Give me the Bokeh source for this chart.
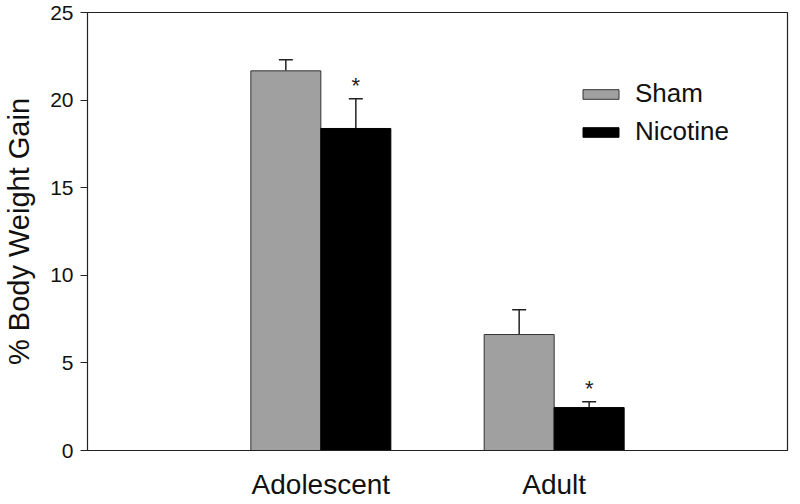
from bokeh.plotting import figure
from bokeh.models import (ColumnDataSource, FixedTicker, Range1d, Legend, LegendItem,
                          Whisker, TeeHead)
from bokeh.core.properties import value
from bokeh.embed import file_html
from bokeh.resources import INLINE

# ---- data ----
groups = ["Adolescent", "Adult"]
group_pos = [1, 2]
sham_mean = [21.67, 6.62]
sham_err = [0.63, 1.41]
nic_mean = [18.38, 2.45]
nic_err = [1.69, 0.33]
nic_sig = ["*", "*"]
y_ticks = [0, 5, 10, 15, 20, 25]

bar_w = 0.3
FONT = "Liberation Sans"

sham_x = [g - bar_w / 2 for g in group_pos]
nic_x = [g + bar_w / 2 for g in group_pos]

sham_src = ColumnDataSource(dict(x=sham_x, top=sham_mean,
                                 upper=[m + e for m, e in zip(sham_mean, sham_err)]))
nic_src = ColumnDataSource(dict(x=nic_x, top=nic_mean,
                                upper=[m + e for m, e in zip(nic_mean, nic_err)],
                                sig=nic_sig))

p = figure(width=790, height=502, output_backend="svg", toolbar_location=None,
           x_range=Range1d(0, 3), y_range=Range1d(0, 25),
           min_border_left=87, min_border_right=3, min_border_top=12, min_border_bottom=40)
p.background_fill_color = "white"
p.border_fill_color = "white"
p.outline_line_color = "#222222"
p.outline_line_width = 1.2
p.xgrid.visible = False
p.ygrid.visible = False

# whiskers (drawn first so bars cover stem bottoms)
for src in (sham_src, nic_src):
    w = Whisker(source=src, base="x", upper="upper", lower="top",
                upper_head=TeeHead(size=14, line_color="#222222", line_width=1.5),
                lower_head=None, line_color="#222222", line_width=1.5)
    p.add_layout(w)

r_sham = p.vbar(x="x", top="top", bottom=0, width=bar_w, source=sham_src,
                fill_color="#a0a0a0", line_color="#333333", line_width=1)
r_nic = p.vbar(x="x", top="top", bottom=0, width=bar_w, source=nic_src,
               fill_color="#000000", line_color="#000000", line_width=1)

p.text(x="x", y="upper", text="sig", source=nic_src, y_offset=-13,
       text_align="center", text_baseline="middle", text_font=value(FONT),
       text_font_size="22px", text_color="#222222")

# axes
p.xaxis.ticker = FixedTicker(ticks=group_pos)
p.xaxis.major_label_overrides = {g: n for g, n in zip(group_pos, groups)}
p.xaxis.major_tick_line_color = None
p.xaxis.major_tick_in = 0
p.xaxis.major_tick_out = 0
p.xaxis.minor_tick_line_color = None
p.xaxis.minor_tick_in = 0
p.xaxis.minor_tick_out = 0
p.xaxis.axis_line_color = "#222222"
p.xaxis.major_label_text_font = FONT
p.xaxis.major_label_text_font_size = "28px"
p.xaxis.major_label_text_color = "#111111"
p.xaxis.major_label_standoff = 18

p.yaxis.ticker = FixedTicker(ticks=y_ticks)
p.yaxis.minor_tick_line_color = None
p.yaxis.minor_tick_out = 0
p.yaxis.major_tick_in = 0
p.yaxis.major_tick_out = 7
p.yaxis.axis_line_color = "#222222"
p.yaxis.major_tick_line_color = "#222222"
p.yaxis.major_label_text_font = FONT
p.yaxis.major_label_text_font_size = "21px"
p.yaxis.major_label_text_color = "#111111"
p.yaxis.major_label_standoff = 7
p.yaxis.axis_label = "% Body Weight Gain"
p.yaxis.axis_label_text_font = FONT
p.yaxis.axis_label_text_font_size = "29px"
p.yaxis.axis_label_text_font_style = "normal"
p.yaxis.axis_label_text_color = "#111111"
p.yaxis.axis_label_standoff = 12

legend = Legend(items=[LegendItem(label="Sham", renderers=[r_sham]),
                       LegendItem(label="Nicotine", renderers=[r_nic])],
                location=(491, 303), orientation="vertical",
                glyph_width=45, glyph_height=12, label_height=24,
                label_text_font=FONT, label_text_font_size="26px",
                label_text_color="#111111", label_standoff=12,
                spacing=7, padding=2, margin=0,
                border_line_color=None, background_fill_alpha=0)
p.add_layout(legend)

open("out.html", "w").write(file_html(p, INLINE))
